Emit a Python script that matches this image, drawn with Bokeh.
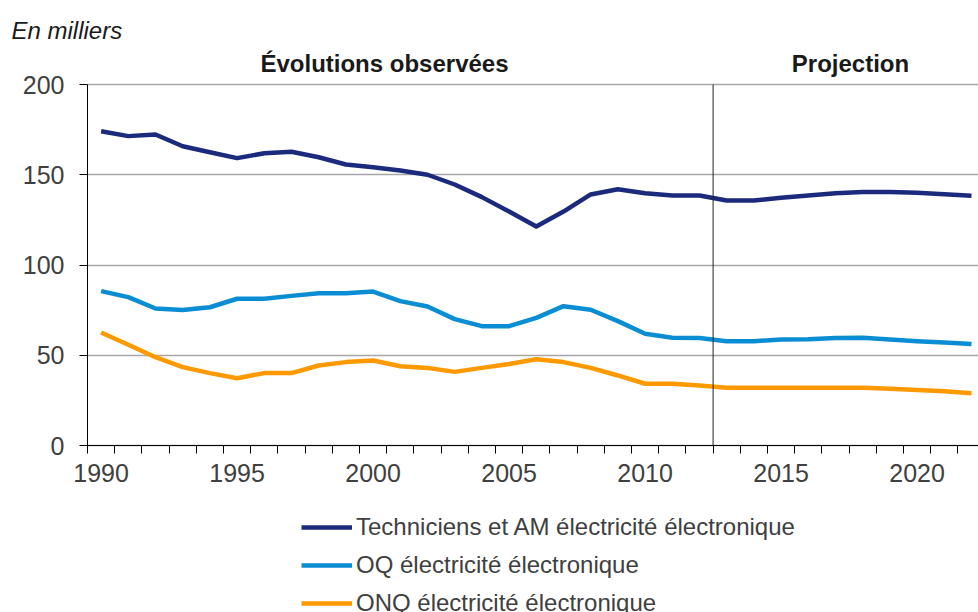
from bokeh.plotting import figure
from bokeh.models import (ColumnDataSource, FixedTicker, Legend, LegendItem, Range1d, Label)
from bokeh.embed import file_html
from bokeh.resources import INLINE

years = list(range(1990, 2023))
techniciens = [174.1, 171.4, 172.3, 165.8, 162.5, 159.2, 161.9, 162.7, 159.7, 155.7, 154.2, 152.4,
               150.0, 144.6, 137.6, 129.6, 121.3, 129.6, 139.1, 142.0, 139.8, 138.5, 138.5,
               135.7, 135.7, 137.2, 138.5, 139.8, 140.5, 140.5, 140.0, 139.2, 138.3]
oq = [85.5, 82.2, 75.9, 75.1, 76.6, 81.3, 81.3, 82.9, 84.4, 84.4, 85.3, 80.0,
      77.0, 70.0, 66.1, 66.1, 70.7, 77.2, 75.2, 68.9, 61.9, 59.7, 59.5,
      57.8, 57.8, 58.7, 58.9, 59.5, 59.7, 58.7, 57.8, 57.1, 56.3]
onq = [62.6, 55.8, 48.9, 43.4, 40.1, 37.3, 40.1, 40.1, 44.3, 46.2, 47.1, 43.9,
       43.0, 40.8, 43.0, 45.2, 47.8, 46.2, 43.0, 38.8, 34.2, 34.2, 33.2,
       32.0, 32.0, 32.0, 32.0, 32.0, 32.0, 31.4, 30.7, 30.0, 29.0]
series_names = ["Techniciens et AM électricité électronique",
                "OQ électricité électronique",
                "ONQ électricité électronique"]
colors = ["#1c2a7e", "#0b8dd3", "#ff9900"]
y_ticks = [0, 50, 100, 150, 200]
x_label_years = [1990, 1995, 2000, 2005, 2010, 2015, 2020]
projection_start = 2012.5
unit_text = "En milliers"
period_texts = ["Évolutions observées", "Projection"]

FONT = "Liberation Sans"
W, H = 978, 612
# pixel layout of the plotting area inside the canvas
PLOT_LEFT_PX, PLOT_TOP_PX, PLOT_BOTTOM_PX = 87, 84, 445
PX_PER_YEAR = 27.2
X0 = years[0] - 0.5
Y0, Y1 = y_ticks[0], y_ticks[-1]
PX_PER_UNIT = (PLOT_BOTTOM_PX - PLOT_TOP_PX) / (Y1 - Y0)


def xd(px):
    return X0 + (px - PLOT_LEFT_PX) / PX_PER_YEAR


def yd(py):
    return Y0 + (PLOT_BOTTOM_PX - py) / PX_PER_UNIT


X_END = xd(W)

p = figure(width=W, height=H, output_backend="svg", toolbar_location=None,
           x_range=Range1d(xd(0), X_END), y_range=Range1d(yd(H), yd(0)),
           min_border=0)
p.outline_line_color = None

src = ColumnDataSource(dict(year=years, t=techniciens, oq=oq, onq=onq))
fields = ["t", "oq", "onq"]
renderers = [p.line("year", f, source=src, line_color=c, line_width=4.5, line_join="round")
             for f, c in zip(fields, colors)]

# projection separator
p.segment(x0=[projection_start], y0=[Y0], x1=[projection_start], y1=[Y1],
          line_color="#222222", line_width=1)

# axes placed at the data origin
xa = p.xaxis[0]
xa.fixed_location = Y0
xa.bounds = (X0, X_END)
xa.ticker = FixedTicker(ticks=x_label_years,
                        minor_ticks=[y - 0.5 for y in years] + [years[-1] + 0.5])
xa.major_tick_out = 0
xa.major_tick_in = 0
xa.minor_tick_out = 8
xa.minor_tick_in = 0
xa.minor_tick_line_color = "black"
xa.axis_line_color = "black"
xa.major_label_text_font = FONT
xa.major_label_text_font_size = "25px"
xa.major_label_text_color = "#404040"
xa.major_label_standoff = 10

ya = p.yaxis[0]
ya.fixed_location = X0
ya.bounds = (Y0, Y1)
ya.ticker = FixedTicker(ticks=y_ticks)
ya.major_tick_out = 8
ya.major_tick_in = 0
ya.minor_tick_out = 0
ya.minor_tick_in = 0
ya.major_tick_line_color = "black"
ya.axis_line_color = "black"
ya.major_label_text_font = FONT
ya.major_label_text_font_size = "25px"
ya.major_label_text_color = "#404040"
ya.major_label_standoff = 15

p.xgrid.visible = False
p.ygrid.ticker = FixedTicker(ticks=y_ticks)
p.ygrid.bounds = (Y0, Y1)
p.ygrid.cross_bounds = (X0, X_END)
p.ygrid.grid_line_color = "#a6a6a6"
p.ygrid.grid_line_width = 1.5
p.ygrid.level = "underlay"

# header texts
p.add_layout(Label(x=xd(11), y=yd(30), text=unit_text, text_font=FONT, text_font_size="24px",
                   text_font_style="italic", text_color="#1a1a1a", text_align="left",
                   text_baseline="alphabetic"))
for txt, cx in zip(period_texts, [384, 850]):
    p.add_layout(Label(x=xd(cx), y=yd(62.5), text=txt, text_font=FONT, text_font_size="24px",
                       text_font_style="bold", text_color="#1a1a1a", text_align="center",
                       text_baseline="alphabetic"))

legend = Legend(items=[LegendItem(label=n, renderers=[r]) for n, r in zip(series_names, renderers)],
                location=(301, -5), orientation="vertical")
legend.glyph_width = 51
legend.glyph_height = 28
legend.label_height = 28
legend.spacing = 10
legend.padding = 0
legend.margin = 0
legend.label_standoff = 4
legend.border_line_color = None
legend.background_fill_alpha = 0
legend.label_text_font = FONT
legend.label_text_font_size = "24px"
legend.label_text_color = "#404040"
p.add_layout(legend)

open("out.html", "w").write(file_html(p, INLINE))
